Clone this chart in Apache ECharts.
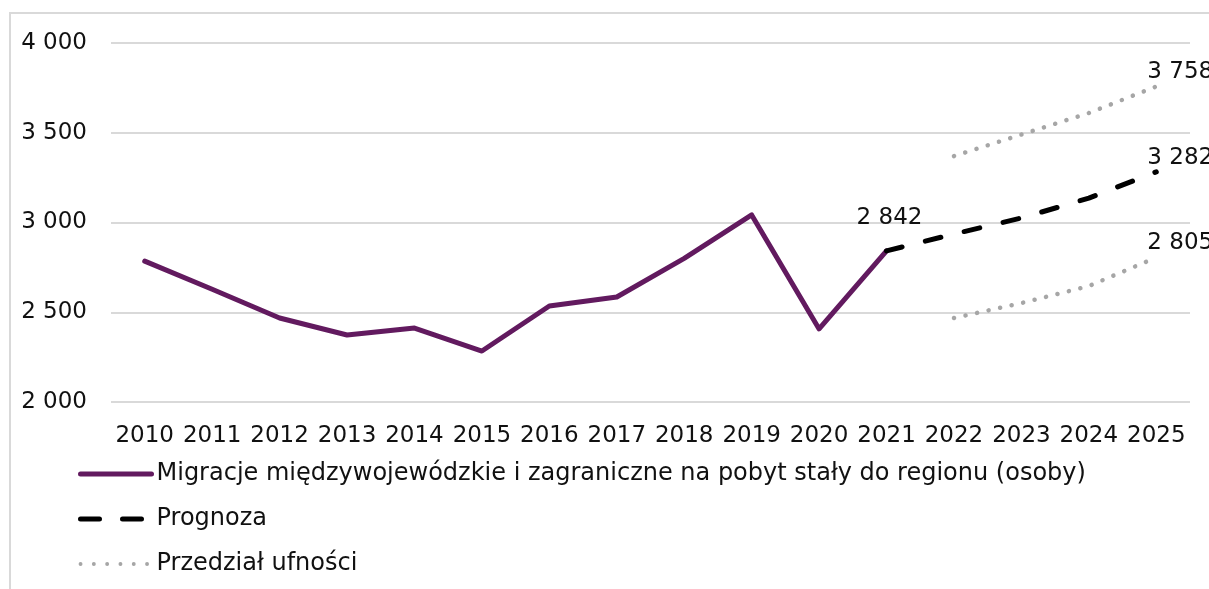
<!DOCTYPE html>
<html><head><meta charset="utf-8">
<script src="https://cdn.jsdelivr.net/npm/echarts@6/dist/echarts.min.js"></script>
<style>html,body{margin:0;padding:0;background:#fff}#c{width:1209px;height:589px}</style>
</head><body><div id="c"></div>
<script>
const categories = ['2010','2011','2012','2013','2014','2015','2016','2017','2018','2019','2020','2021','2022','2023','2024','2025'];
const migration = [2785, 2628, 2468, 2373, 2412, 2284, 2535, 2585, 2800, 3042, 2407, 2842, null, null, null, null];
const forecast = [null, null, null, null, null, null, null, null, null, null, null, 2842, 2936, 3025, 3136, 3282];
const upper = [null, null, null, null, null, null, null, null, null, null, null, null, 3370, 3490, 3610, 3758];
const lower = [null, null, null, null, null, null, null, null, null, null, null, null, 2468, 2551, 2646, 2805];
const names = ['Migracje międzywojewódzkie i zagraniczne na pobyt stały do regionu (osoby)', 'Prognoza', 'Przedział ufności'];

const FONT = 'DejaVu Sans';
const FS = 23;
const TXT = '#111';
const fmt = v => String(Math.round(Array.isArray(v) ? v[v.length - 1] : v)).replace(/\B(?=(\d{3})+(?!\d))/g, ' ');
const lastIdx = arr => { let i = arr.length - 1; while (i >= 0 && arr[i] == null) i--; return i; };
const valueLabel = (arr, dist, dx) => {
  const i = lastIdx(arr);
  return {
    symbol: 'circle', symbolSize: 1, itemStyle: { color: 'rgba(0,0,0,0)' }, silent: true, animation: false,
    label: { show: true, position: 'top', distance: dist, offset: [dx, 0], fontSize: FS, color: TXT, fontFamily: FONT, formatter: p => fmt(p.value) },
    data: [{ coord: [categories[i], arr[i]], value: arr[i] }]
  };
};

const chart = echarts.init(document.getElementById('c'));
chart.setOption({
  animation: false,
  textStyle: { fontFamily: FONT },
  graphic: [{ type: 'polyline', shape: { points: [[10, 640], [10, 13], [1260, 13]] }, style: { fill: 'none', stroke: '#d9d9d9', lineWidth: 2 }, silent: true }],
  grid: { left: 111, right: 19, top: 43, bottom: 187 },
  legend: {
    orient: 'vertical', left: 78, top: 462, padding: 0, itemGap: 21, itemWidth: 71, itemHeight: 24,
    itemStyle: { opacity: 0 },
    textStyle: { fontSize: 24, color: TXT, fontFamily: FONT },
    data: [
      { name: names[0], lineStyle: { width: 5, cap: 'round' } },
      { name: names[1], lineStyle: { width: 5, type: [19, 23], cap: 'round' } },
      { name: names[2], lineStyle: { width: 3.8, type: [0.1, 13.2], cap: 'round' } }
    ]
  },
  xAxis: {
    type: 'category', data: categories, boundaryGap: true,
    axisLine: { show: false }, axisTick: { show: false },
    axisLabel: { fontSize: FS, color: TXT, margin: 23, fontFamily: FONT, interval: 0 }
  },
  yAxis: {
    type: 'value', min: 2000, max: 4000, interval: 500,
    axisLine: { show: false }, axisTick: { show: false },
    splitLine: { lineStyle: { color: '#d9d9d9', width: 2 } },
    axisLabel: { fontSize: FS, color: TXT, margin: 24, fontFamily: FONT, formatter: fmt }
  },
  series: [
    { name: names[0], type: 'line', data: migration, symbol: 'none',
      lineStyle: { color: '#621a5f', width: 5, join: 'round', cap: 'round' }, itemStyle: { color: '#621a5f' },
      markPoint: valueLabel(migration, 21, 3) },
    { name: names[1], type: 'line', data: forecast, symbol: 'none',
      lineStyle: { color: '#000', width: 5, type: [16, 24], cap: 'round' }, itemStyle: { color: '#000' },
      markPoint: valueLabel(forecast, 2, 24) },
    { name: names[2], type: 'line', data: upper, symbol: 'none',
      lineStyle: { color: '#a6a6a6', width: 4.5, type: [0.1, 11.7], cap: 'round' }, itemStyle: { color: '#a6a6a6' },
      markPoint: valueLabel(upper, 2, 24) },
    { name: names[2], type: 'line', data: lower, symbol: 'none',
      lineStyle: { color: '#a6a6a6', width: 4.5, type: [0.1, 11.7], cap: 'round' }, itemStyle: { color: '#a6a6a6' },
      markPoint: valueLabel(lower, 2, 24) }
  ]
});
</script></body></html>
